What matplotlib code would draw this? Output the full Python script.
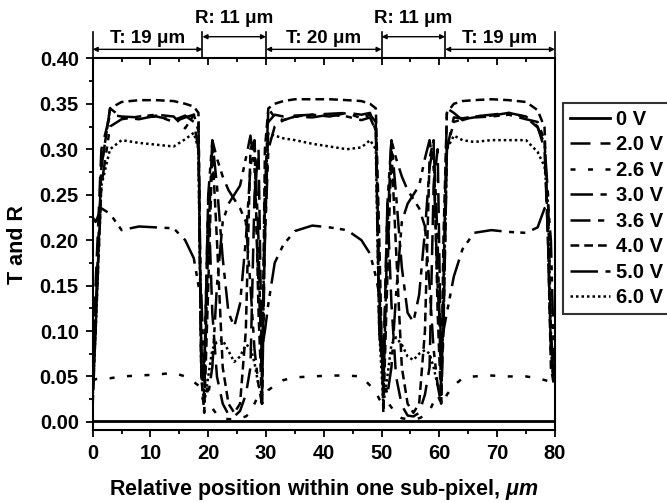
import matplotlib
matplotlib.use("Agg")
import matplotlib.pyplot as plt
from matplotlib.ticker import MultipleLocator

plt.rcParams['font.family'] = ['Liberation Sans', 'DejaVu Sans']
plt.rcParams['font.weight'] = 'bold'
plt.rcParams['mathtext.fontset'] = 'custom'
plt.rcParams['mathtext.it'] = 'Liberation Sans:italic:bold'
plt.rcParams['mathtext.rm'] = 'Liberation Sans:bold'

# positions (um); regions T1 | R1 | T2 | R2 | T3
x_um = [0, 0.5, 1.5, 3, 5, 8, 11, 14, 16, 17.5, 18.3, 18.8,
        19.3, 20.0, 20.7, 21.5, 22.5, 23.5, 24.5, 25.5, 26.5, 27.3, 28.0, 28.7, 29.3,
        29.8, 30.4, 31.5, 33, 35, 38, 41, 44, 46.5, 48, 49, 49.6,
        50.3, 51.0, 51.7, 52.5, 53.5, 54.5, 55.5, 56.5, 57.5, 58.3, 59.0, 59.7, 60.3,
        60.7, 61.3, 62.5, 64, 66, 69, 72, 75, 77, 78.2, 78.8, 79.3, 79.7, 80]

v0_0 = [0.001] * len(x_um)

v2_0 = [0.05, 0.15, 0.30, 0.338, 0.336, 0.335, 0.336, 0.332, 0.337, 0.33, 0.30, 0.05,
        0.05, 0.25, 0.12, 0.05, 0.02, 0.008, 0.006, 0.012, 0.03, 0.06, 0.25, 0.30, 0.05,
        0.20, 0.33, 0.338, 0.336, 0.337, 0.338, 0.339, 0.34, 0.338, 0.34, 0.32, 0.10,
        0.05, 0.24, 0.13, 0.05, 0.018, 0.007, 0.006, 0.01, 0.03, 0.06, 0.26, 0.30, 0.06,
        0.10, 0.30, 0.335, 0.334, 0.336, 0.338, 0.34, 0.336, 0.325, 0.30, 0.20, 0.08, 0.05, 0.04]

v2_6 = [0.045, 0.047, 0.048, 0.048, 0.05, 0.051, 0.052, 0.054, 0.05, 0.044, 0.04, 0.03,
        0.02, 0.02, 0.015, 0.008, 0.004, 0.003, 0.003, 0.004, 0.006, 0.01, 0.02, 0.03, 0.02,
        0.025, 0.035, 0.04, 0.046, 0.049, 0.05, 0.051, 0.051, 0.05, 0.04, 0.033, 0.025,
        0.02, 0.022, 0.016, 0.008, 0.004, 0.003, 0.003, 0.004, 0.007, 0.012, 0.022, 0.03, 0.02,
        0.02, 0.03, 0.04, 0.048, 0.05, 0.051, 0.05, 0.05, 0.048, 0.046, 0.045, 0.044, 0.043, 0.042]

v3_0 = [0.04, 0.12, 0.28, 0.345, 0.335, 0.333, 0.337, 0.33, 0.335, 0.338, 0.32, 0.06,
        0.03, 0.20, 0.31, 0.26, 0.18, 0.12, 0.105, 0.13, 0.20, 0.28, 0.31, 0.20, 0.03,
        0.25, 0.345, 0.335, 0.332, 0.336, 0.338, 0.336, 0.34, 0.334, 0.338, 0.33, 0.15,
        0.03, 0.21, 0.31, 0.25, 0.17, 0.12, 0.11, 0.14, 0.21, 0.28, 0.305, 0.20, 0.03,
        0.15, 0.345, 0.34, 0.332, 0.336, 0.337, 0.34, 0.335, 0.324, 0.306, 0.25, 0.10, 0.06, 0.05]

v3_6 = [0.03, 0.10, 0.26, 0.325, 0.333, 0.336, 0.338, 0.336, 0.323, 0.338, 0.33, 0.08,
        0.05, 0.25, 0.31, 0.29, 0.27, 0.255, 0.245, 0.235, 0.22, 0.15, 0.08, 0.04, 0.02,
        0.20, 0.30, 0.325, 0.332, 0.336, 0.335, 0.338, 0.336, 0.332, 0.335, 0.32, 0.10,
        0.05, 0.24, 0.31, 0.29, 0.27, 0.255, 0.245, 0.235, 0.215, 0.15, 0.08, 0.04, 0.02,
        0.10, 0.30, 0.33, 0.333, 0.335, 0.336, 0.338, 0.333, 0.33, 0.31, 0.20, 0.08, 0.05, 0.045]

v4_0 = [0.02, 0.10, 0.28, 0.345, 0.352, 0.354, 0.354, 0.353, 0.35, 0.347, 0.34, 0.05,
        0.01, 0.15, 0.30, 0.20, 0.06, 0.02, 0.01, 0.02, 0.10, 0.30, 0.31, 0.12, 0.02,
        0.30, 0.345, 0.35, 0.353, 0.355, 0.355, 0.355, 0.354, 0.353, 0.35, 0.345, 0.20,
        0.01, 0.16, 0.30, 0.19, 0.06, 0.02, 0.01, 0.02, 0.10, 0.29, 0.31, 0.12, 0.02,
        0.20, 0.34, 0.35, 0.353, 0.354, 0.355, 0.354, 0.352, 0.343, 0.324, 0.20, 0.06, 0.045, 0.04]

v5_0 = [0.225, 0.22, 0.235, 0.229, 0.211, 0.215, 0.214, 0.213, 0.20, 0.18, 0.15, 0.14,
        0.05, 0.03, 0.06, 0.15, 0.22, 0.24, 0.25, 0.26, 0.29, 0.315, 0.28, 0.15, 0.08,
        0.10, 0.13, 0.175, 0.195, 0.21, 0.216, 0.214, 0.211, 0.20, 0.185, 0.16, 0.14,
        0.05, 0.03, 0.06, 0.14, 0.22, 0.24, 0.25, 0.26, 0.29, 0.31, 0.28, 0.15, 0.08,
        0.10, 0.12, 0.16, 0.19, 0.208, 0.211, 0.209, 0.208, 0.214, 0.235, 0.24, 0.20, 0.10, 0.05]

v6_0 = [0.03, 0.10, 0.26, 0.30, 0.31, 0.307, 0.305, 0.303, 0.311, 0.318, 0.30, 0.05,
        0.02, 0.05, 0.08, 0.088, 0.09, 0.078, 0.066, 0.072, 0.085, 0.082, 0.065, 0.04, 0.03,
        0.25, 0.318, 0.315, 0.312, 0.31, 0.306, 0.303, 0.30, 0.302, 0.31, 0.30, 0.10,
        0.02, 0.05, 0.085, 0.093, 0.085, 0.072, 0.068, 0.075, 0.079, 0.075, 0.06, 0.04, 0.03,
        0.12, 0.30, 0.315, 0.31, 0.308, 0.31, 0.31, 0.31, 0.297, 0.281, 0.24, 0.10, 0.05, 0.045]

labels = ['0 V', '2.0 V', '2.6 V', '3.0 V', '3.6 V', '4.0 V', '5.0 V', '6.0 V']
series = [v0_0, v2_0, v2_6, v3_0, v3_6, v4_0, v5_0, v6_0]
styles = [(), (8, 4), (2, 5), (9, 3, 2.5, 3), (8, 3, 2.5, 2.5, 2.5, 3),
          (3.5, 2), (11, 3, 2, 2.5, 2, 3), (1, 1.2)]

# region boundaries and labels for the top annotations
bounds = [0, 19, 30, 50, 61, 80]
region_text = ['T: 19 \u03bcm', 'R: 11 \u03bcm', 'T: 20 \u03bcm', 'R: 11 \u03bcm', 'T: 19 \u03bcm']

fig = plt.figure(figsize=(6.67, 5.03), dpi=100)
ax = fig.add_axes([0.139, 0.145, 0.693, 0.739])

for y, lab, ds in zip(series, labels, styles):
    if ds:
        ax.plot(x_um, y, color='black', lw=1.8, dashes=ds, label=lab)
    else:
        ax.plot(x_um, y, color='black', lw=2.0, label=lab)

ax.set_xlim(0, 80)
ax.set_ylim(-0.009, 0.40)
ax.xaxis.set_major_locator(MultipleLocator(10))
ax.xaxis.set_minor_locator(MultipleLocator(5))
ax.yaxis.set_major_locator(MultipleLocator(0.05))
ax.yaxis.set_minor_locator(MultipleLocator(0.025))
ax.yaxis.set_major_formatter(matplotlib.ticker.FormatStrFormatter('%.2f'))
ax.tick_params(which='both', direction='out', width=1.3, labelsize=14.5)
ax.tick_params(which='major', length=5, pad=5)
ax.tick_params(which='minor', length=3)
ax.tick_params(top=True, which='both')
for t in ax.xaxis.get_major_ticks() + ax.xaxis.get_minor_ticks():
    t.tick2line.set_marker(matplotlib.markers.TICKDOWN)
for sp in ax.spines.values():
    sp.set_linewidth(1.5)

ax.set_xlabel('Relative position within one sub-pixel, $\\mathit{\\mu m}$',
              fontsize=15.5, fontweight='bold', labelpad=10)
ax.set_ylabel('T and R', fontsize=15.5, fontweight='bold', labelpad=8)

# top region annotations
for b in bounds:
    ax.plot([b, b], [0.40, 0.4293], color='black', lw=1.2, clip_on=False)
for i, txt in enumerate(region_text):
    x0, x1 = bounds[i], bounds[i + 1]
    if txt.startswith('T'):
        ya, yt = 0.4099, 0.4218
    else:
        ya, yt = 0.4238, 0.4433
    ax.annotate('', xy=(x0, ya), xytext=(x1, ya),
                arrowprops=dict(arrowstyle='<|-|>', color='black', lw=1.0,
                                mutation_scale=7, shrinkA=0, shrinkB=0),
                annotation_clip=False)
    ax.text((x0 + x1) / 2, yt, txt, ha='center', va='center',
            fontsize=13.5, fontweight='bold', clip_on=False)

leg = fig.legend(loc='upper left', bbox_to_anchor=(563 / 667, 1 - 103 / 503),
                 frameon=True, fancybox=False, fontsize=14.5, handlelength=2.0,
                 handletextpad=0.3, labelspacing=0.32, borderpad=0.35, borderaxespad=0)
leg.get_frame().set_edgecolor('black')
leg.get_frame().set_linewidth(1.5)

fig.savefig('out.png', dpi=100)
